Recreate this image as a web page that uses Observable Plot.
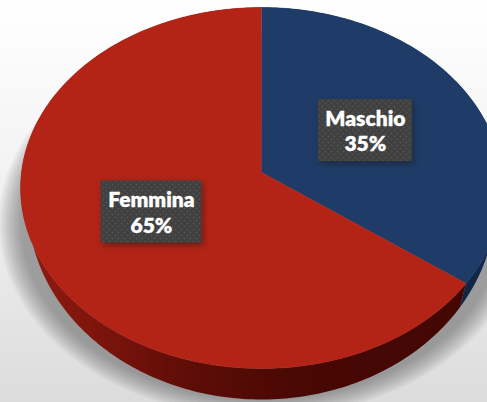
<!DOCTYPE html>
<html><head><meta charset="utf-8">
<script src="https://cdn.jsdelivr.net/npm/d3@7"></script>
<script src="https://cdn.jsdelivr.net/npm/@observablehq/plot@0.6"></script>
<style>html,body{margin:0;padding:0;background:#fff;overflow:hidden}svg{display:block}</style>
</head><body><div id="chart"></div>
<script>
const categories = ["Maschio", "Femmina"];
const shares = [35, 65];
const faceColors = ["#1f3c68", "#b32417"];
const sideFills = ["url(#sideBlue)", "url(#sideRed)"];

const W = 487, H = 402;
const cx = 261, cy = 172, a = 240, b = 164.4, k = -0.0859;
const font = "800 21px Lato";
const measure = document.createElement("canvas").getContext("2d");
measure.font = font;
const project = (r, t) => {
  const u = r * Math.sin(t), v = -r * Math.cos(t), w = 1 + k * v;
  return {x: cx + a * u / w, y: (cy + b * v) / w};
};
const lower = q => ({x: cx + 0.97 * (q.x - cx), y: q.y * 1.082 + 0.8});
const angles = d3.pie().sort(null)(shares);
const arcPts = (s, e) => {
  const n = Math.ceil((e - s) * 60);
  return d3.range(n + 1).map(i => project(1, s + (e - s) * i / n));
};
const faces = [], sides = [], boxes = [], labels = [];
angles.forEach((p, i) => {
  const name = categories[i];
  const top = arcPts(p.startAngle, p.endAngle);
  faces.push({name, ...project(0, 0)});
  top.forEach(q => faces.push({name, ...q}));
  [...top, ...top.map(lower).reverse()].forEach(q => sides.push({name, ...q}));
  const c = project(0.5, (p.startAngle + p.endAngle) / 2);
  const hw = (measure.measureText(name).width + 14) / 2;
  boxes.push({name, x1: c.x - 1 - hw, x2: c.x - 1 + hw, y1: c.y - 33, y2: c.y + 29});
  labels.push({x: c.x - 1, y: c.y - 2, text: `${name}\n${shares[i]}%`});
});
const ring = arcPts(0, 2 * Math.PI);
const shadowLayers = d3.range(12).map(i => ring.map(q => ({
  x: cx + (q.x - cx) * (1 + 0.09 * i / 11),
  y: 222 + (q.y - 187.5) * (0.98 + 0.10 * i / 11)
})));

const chart = Plot.plot({
  width: W, height: H, margin: 0,
  x: {domain: [0, W], range: [0, W], axis: null},
  y: {domain: [0, H], range: [0, H], axis: null},
  marks: [
    ...shadowLayers.map(l => Plot.line(l, {x: "x", y: "y", fill: "#555555", stroke: "none", fillOpacity: 0.05})),
    ...categories.map((n, i) => Plot.line(sides.filter(d => d.name === n), {x: "x", y: "y", fill: sideFills[i], stroke: "none"})),
    ...categories.map((n, i) => Plot.line(faces.filter(d => d.name === n), {x: "x", y: "y", fill: faceColors[i], stroke: faceColors[i], strokeWidth: 0.5})),
    Plot.rect(boxes, {x1: "x1", x2: "x2", y1: "y1", y2: "y2", fill: "#1a1a1a", fillOpacity: 0.5, dx: 2, dy: 3, imageFilter: "blur(3px)"}),
    Plot.rect(boxes, {x1: "x1", x2: "x2", y1: "y1", y2: "y2", fill: "url(#dots)"}),
    Plot.text(labels, {x: "x", y: "y", text: "text", fill: "#fff", fontFamily: "Lato", fontWeight: 800, fontSize: 21, lineHeight: 1.2, stroke: "#fff", strokeWidth: 0.3})
  ]
});
chart.style.background = "linear-gradient(180deg,#ffffff 0%,#f2f2f2 45%,#dcdcdc 100%)";
const defs = d3.select(chart).insert("defs", ":first-child");
const grad = (id, stops) => {
  const g = defs.append("linearGradient").attr("id", id).attr("gradientUnits", "userSpaceOnUse")
    .attr("x1", 20).attr("x2", 487).attr("y1", 0).attr("y2", 0);
  stops.forEach(([o, c]) => g.append("stop").attr("offset", o).attr("stop-color", c));
};
grad("sideRed", [[0, "#931b11"], [0.15, "#7f150c"], [0.35, "#5f0d07"], [0.6, "#480804"], [1, "#420704"]]);
grad("sideBlue", [[0.9, "#0e1f3a"], [1, "#132a4d"]]);
const pat = defs.append("pattern").attr("id", "dots").attr("patternUnits", "userSpaceOnUse").attr("width", 6).attr("height", 6);
pat.append("rect").attr("width", 6).attr("height", 6).attr("fill", "#404040");
pat.append("circle").attr("cx", 1.5).attr("cy", 1.5).attr("r", 0.9).attr("fill", "#525252");
pat.append("circle").attr("cx", 4.5).attr("cy", 4.5).attr("r", 0.9).attr("fill", "#525252");
document.getElementById("chart").append(chart);
</script></body></html>
